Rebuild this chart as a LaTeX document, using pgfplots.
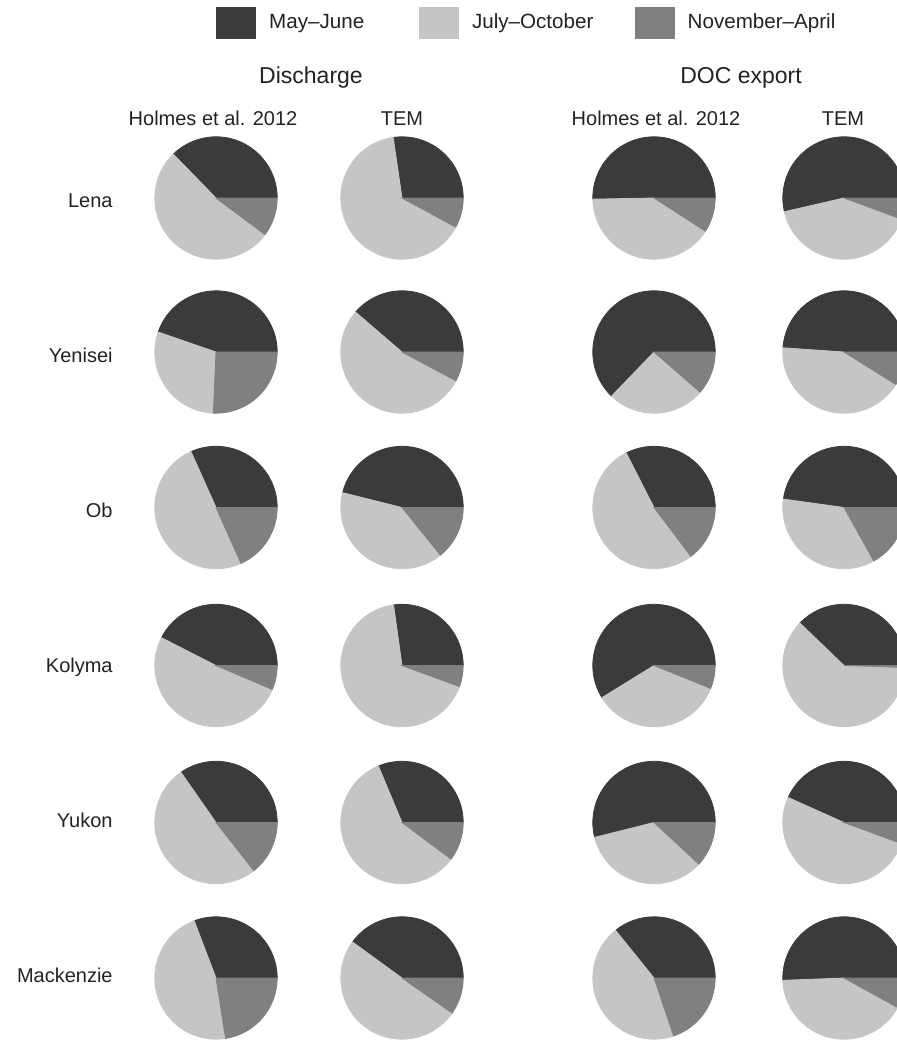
\documentclass[border=0pt]{standalone}
\usepackage{pgfplots}
\pgfplotsset{compat=1.18}
\usepackage{pgfplotstable}
\usepackage{fontspec}
\setmainfont{Liberation Sans}
\definecolor{cMJ}{HTML}{3B3B3D}
\definecolor{cJO}{HTML}{C4C5C7}
\definecolor{cNA}{HTML}{7F8082}
\definecolor{txt}{HTML}{222222}

% x = panel column centre, y = river row centre (picture units)
% mj = May-June, jo = July-October, na = November-April (fractions)
\pgfplotstableread{
x   y     mj    jo    na
216 198   0.373 0.525 0.102
402 198   0.273 0.648 0.079
654 198   0.503 0.406 0.091
844 198   0.536 0.408 0.056
216 352   0.447 0.296 0.257
402 352   0.387 0.535 0.078
654 352   0.628 0.258 0.114
844 352   0.489 0.422 0.089
216 507.5 0.317 0.500 0.183
402 507.5 0.461 0.397 0.142
654 507.5 0.325 0.528 0.147
844 507.5 0.478 0.353 0.169
216 665.5 0.425 0.511 0.064
402 665.5 0.272 0.672 0.056
654 665.5 0.588 0.351 0.061
844 665.5 0.378 0.617 0.005
216 822.5 0.347 0.509 0.144
402 822.5 0.313 0.585 0.102
654 822.5 0.539 0.342 0.119
844 822.5 0.433 0.511 0.056
216 978   0.308 0.467 0.225
402 978   0.400 0.503 0.097
654 978   0.358 0.444 0.198
844 978   0.506 0.414 0.080
}\piedata

\pgfdeclareplotmark{nomark}{}
\pgfplotsset{
  pieslice/.style n args={3}{
    scatter, only marks, mark=nomark, forget plot,
    visualization depends on={\thisrow{mj} \as \fmj},
    visualization depends on={\thisrow{jo} \as \fjo},
    scatter/@pre marker code/.code={%
      \pgfmathsetmacro\sa{#2}%
      \pgfmathsetmacro\ea{#3}%
      \fill[#1] (0pt,0pt) -- (\sa:30.6pt) arc[start angle=\sa, end angle=\ea, radius=30.6pt] -- cycle;
    },
    scatter/@post marker code/.code={},
  },
  swatch/.style={legend image code/.code={\fill[#1] (0pt,-7.75pt) rectangle (19.5pt,7.75pt);}},
}

\begin{document}
\begin{tikzpicture}
\useasboundingbox (0pt,0pt) rectangle (448.5pt,520pt);
\begin{axis}[
  at={(0pt,0pt)}, anchor=south west,
  scale only axis, width=448.5pt, height=520pt,
  xmin=0, xmax=897, ymin=0, ymax=1040, y dir=reverse,
  hide axis, clip=false,
  legend columns=3,
  legend style={
    at={(axis cs:216,22.5)}, anchor=west,
    draw=none, fill=none, inner sep=0pt,
    font=\fontsize{10.3}{12}\selectfont, text=txt,
    nodes={inner sep=0pt},
    /tikz/every odd column/.style={column sep=6.5pt},
    /tikz/column 2/.style={column sep=27.5pt},
    /tikz/column 4/.style={column sep=20.75pt},
  },
]
\addplot[pieslice={cMJ}{0}{360*\fmj}] table[x=x,y=y] {\piedata};
\addplot[pieslice={cJO}{360*\fmj}{360*(\fmj+\fjo)}] table[x=x,y=y] {\piedata};
\addplot[pieslice={cNA}{360*(\fmj+\fjo)}{360}] table[x=x,y=y] {\piedata};

\addlegendimage{swatch=cMJ}
\addlegendentry{May--June}
\addlegendimage{swatch=cJO}
\addlegendentry{July--October}
\addlegendimage{swatch=cNA}
\addlegendentry{November--April}

% group headers
\node[anchor=base, text=txt, font=\fontsize{11.5}{14}\selectfont] at (axis cs:311,83.5) {Discharge};
\node[anchor=base, text=txt, font=\fontsize{11.5}{14}\selectfont] at (axis cs:741,83.5) {DOC export};
% column headers
\node[anchor=base, text=txt, font=\fontsize{10}{12}\selectfont] at (axis cs:213,125.3) {Holmes et al. 2012};
\node[anchor=base, text=txt, font=\fontsize{10}{12}\selectfont] at (axis cs:402,125.3) {TEM};
\node[anchor=base, text=txt, font=\fontsize{10}{12}\selectfont] at (axis cs:656,125.3) {Holmes et al. 2012};
\node[anchor=base, text=txt, font=\fontsize{10}{12}\selectfont] at (axis cs:843,125.3) {TEM};
% row labels
\node[anchor=base east, inner sep=0pt, text=txt, font=\fontsize{10}{12}\selectfont] at (axis cs:113,207) {Lena};
\node[anchor=base east, inner sep=0pt, text=txt, font=\fontsize{10}{12}\selectfont] at (axis cs:113,362) {Yenisei};
\node[anchor=base east, inner sep=0pt, text=txt, font=\fontsize{10}{12}\selectfont] at (axis cs:113,517) {Ob};
\node[anchor=base east, inner sep=0pt, text=txt, font=\fontsize{10}{12}\selectfont] at (axis cs:113,672) {Kolyma};
\node[anchor=base east, inner sep=0pt, text=txt, font=\fontsize{10}{12}\selectfont] at (axis cs:113,827) {Yukon};
\node[anchor=base east, inner sep=0pt, text=txt, font=\fontsize{10}{12}\selectfont] at (axis cs:113,982) {Mackenzie};
\end{axis}
\end{tikzpicture}
\end{document}
